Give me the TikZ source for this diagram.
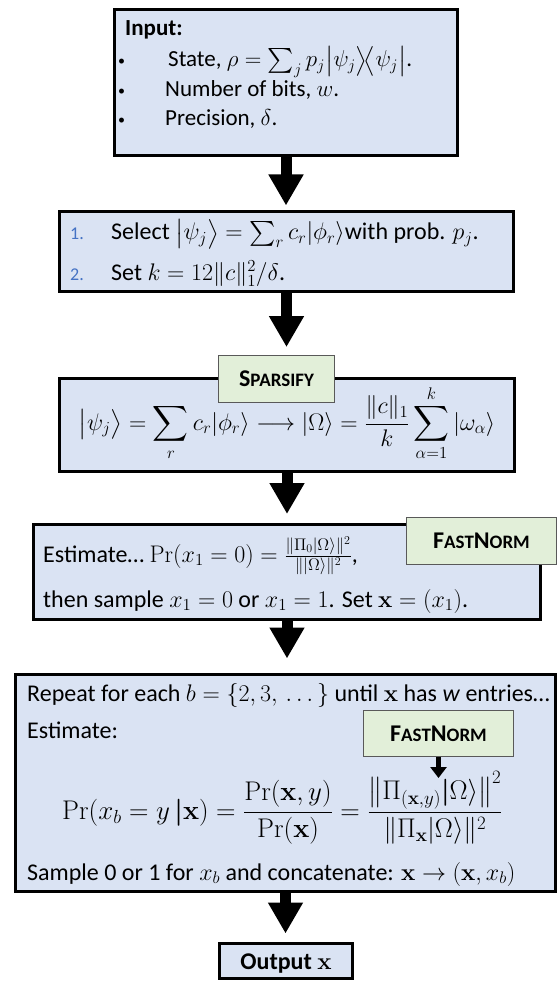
\RequirePackage{fix-cm}
\documentclass[tikz,border=0pt]{standalone}
\usepackage{amsmath}
\usepackage[no-math]{fontspec}
\setmainfont{Carlito}
\usetikzlibrary{arrows.meta}
\definecolor{boxblue}{RGB}{218,227,243}
\definecolor{boxgreen}{RGB}{226,239,217}
\definecolor{numblue}{RGB}{68,114,196}
\newcommand{\scsmall}[1]{{\fontsize{19}{22}\selectfont #1}}
\tikzset{
  stepbox/.style={draw=black, line width=3pt, fill=boxblue, inner sep=0pt},
  subbox/.style={draw=black!65, line width=0.9pt, fill=boxgreen, inner sep=0pt,
    font=\fontsize{24}{28}\selectfont\bfseries},
  txt/.style={anchor=base west, inner sep=0pt, font=\fontsize{24}{28}\selectfont},
  smalltxt/.style={anchor=base west, inner sep=0pt, font=\fontsize{23}{27}\selectfont},
  numtxt/.style={anchor=base west, inner sep=0pt, text=numblue, font=\fontsize{18}{22}\selectfont},
  bullettxt/.style={anchor=base west, inner sep=0pt, font=\fontsize{14}{16}\selectfont},
  bigmath/.style={anchor=base, inner sep=0pt, font=\fontsize{24}{28}\selectfont},
  bigarrow/.style={line width=11pt, -{Triangle[width=33pt,length=31pt]}},
  smallarrow/.style={line width=5pt, -{Triangle[width=16pt,length=11pt]}},
}
\begin{document}
\begin{tikzpicture}[x=1pt,y=-1pt]
\useasboundingbox (0,0) rectangle (558,981);
% boxes
\node[stepbox, minimum width=343pt, minimum height=146pt] (b1) at (286,82.5) {};
\node[stepbox, minimum width=454pt, minimum height=80pt] (b2) at (286.5,251.5) {};
\node[stepbox, minimum width=455pt, minimum height=93pt] (b3) at (287,425) {};
\node[stepbox, minimum width=507pt, minimum height=95pt] (b4) at (287,572) {};
\node[stepbox, minimum width=540pt, minimum height=217pt] (b5) at (285.5,783) {};
\node[stepbox, minimum width=133pt, minimum height=35pt] (out) at (286,961) {};
% box 1 text
\node[smalltxt] (t1) at (125,36) {\textbf{Input:}};
\node[bullettxt] (u1) at (118,66) {•};
\node[bullettxt] (u2) at (118,96) {•};
\node[bullettxt] (u3) at (118,125) {•};
\node[smalltxt] (t1a) at (168,67) {State, $\rho = \sum_j p_j \bigl|\psi_j\bigr\rangle\!\bigl\langle\psi_j\bigr|$.};
\node[smalltxt] (t1b) at (165,97) {Number of bits, $w$.};
\node[smalltxt] (t1c) at (165,126) {Precision, $\delta$.};
% box 2 text
\node[numtxt] (n1) at (70,240) {1.};
\node[numtxt] (n2) at (70,280) {2.};
\node[txt] (t2a) at (111,240) {Select $\bigl|\psi_j\bigr\rangle = \sum_r c_r|\phi_r\rangle$with prob. $p_j$.};
\node[txt] (t2b) at (111,280) {Set $k = 12\|c\|_1^2/\delta$.};
% box 3
\node[bigmath] (t3) at (287,430) {$\displaystyle \bigl|\psi_j\bigr\rangle = \sum_r c_r|\phi_r\rangle \longrightarrow |\Omega\rangle = \frac{\|c\|_1}{k}\sum_{\alpha=1}^{k}|\omega_\alpha\rangle$};
\node[subbox, minimum width=116pt, minimum height=47pt] (sp) at (276.5,379) {S\scsmall{PARSIFY}};
% box 4
\node[txt] (t4a) at (43,562) {Estimate… $\Pr(x_1 = 0) = \frac{\|\Pi_0|\Omega\rangle\|^2}{\||\Omega\rangle\|^2}$,};
\node[txt] (t4b) at (43,607) {then sample $x_1 = 0$ or $x_1 = 1$. Set $\mathbf{x} = (x_1)$.};
\node[subbox, minimum width=150pt, minimum height=47pt] (fn1) at (481.5,541) {F\scsmall{AST}N\scsmall{ORM}};
% box 5
\node[txt] (t5a) at (27,701) {Repeat for each $b = \{2,3,\,\ldots\,\}$ until $\mathbf{x}$ has \textit{w} entries…};
\node[txt] (t5b) at (27,738) {Estimate:};
\node[bigmath, anchor=base west, font=\fontsize{27}{30}\selectfont] (t5c) at (62,819) {$\displaystyle \Pr(x_b = y\,\boldsymbol{|}\mathbf{x}) = \frac{\Pr(\mathbf{x},y)}{\Pr(\mathbf{x})} = \frac{\bigl\|\Pi_{(\mathbf{x},y)}\boldsymbol{|}\Omega\rangle\bigr\|^2}{\|\Pi_{\mathbf{x}}|\Omega\rangle\|^2}$};
\node[txt] (t5d) at (27,880) {Sample 0 or 1 for $x_b$ and concatenate: $\mathbf{x} \rightarrow (\mathbf{x}, x_b)$};
\node[subbox, minimum width=150pt, minimum height=46pt] (fn2) at (438.5,733.5) {F\scsmall{AST}N\scsmall{ORM}};
% output
\node[txt, anchor=base] (t6) at (286,969) {\textbf{Output} $\mathbf{x}$};
% arrows
\coordinate (fnt) at (437,778);
\draw[bigarrow, shorten >=4.5pt] (b1.south) -- (b1.south |- b2.north);
\draw[bigarrow, shorten >=8pt] (b2.south) -- (b2.south |- sp.north);
\draw[bigarrow, shorten >=9pt] (b3.south) -- (b3.south |- b4.north);
\draw[bigarrow, shorten >=14.5pt] (b4.south) -- (b4.south |- b5.north);
\draw[bigarrow, shorten >=8.5pt] (b5.south) -- (b5.south |- out.north);
\draw[smallarrow] (fn2.south) -- (fn2.south |- fnt);
\end{tikzpicture}
\end{document}
